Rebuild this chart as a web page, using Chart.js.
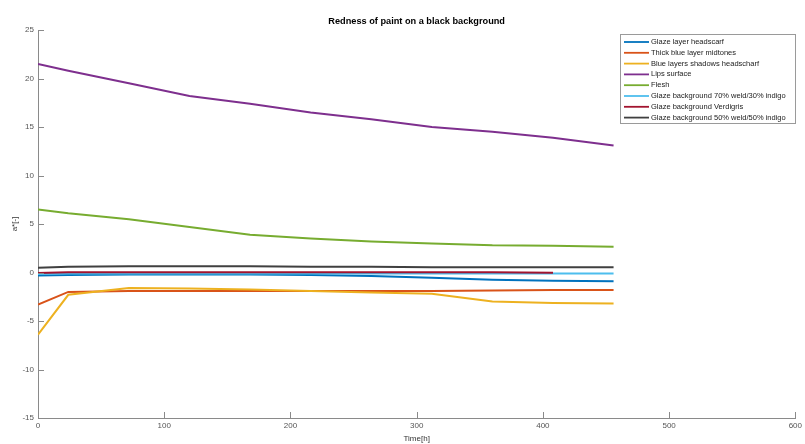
<!DOCTYPE html>
<html>
<head>
<meta charset="utf-8">
<script src="https://cdn.jsdelivr.net/npm/chart.js@4.4.1/dist/chart.umd.min.js"></script>
<style>
  html, body { margin: 0; padding: 0; background: #fff; }
  #wrap { width: 805px; height: 444px; }
</style>
</head>
<body>
<div id="wrap"><canvas id="chart" width="805" height="444"></canvas></div>
<script>
// measurement times in hours
const hours = [0, 24, 72, 120, 168, 216, 264, 312, 360, 408, 456]

const seriesNames = [
  'Glaze layer headscarf',
  'Thick blue layer midtones',
  'Blue layers shadows headscharf',
  'Lips surface',
  'Flesh',
  'Glaze background 70% weld/30% indigo',
  'Glaze background Verdigris',
  'Glaze background 50% weld/50% indigo'
]
const seriesColors = ['#0072BD', '#D95319', '#EDB120', '#7E2F8E', '#77AC30', '#4DBEEE', '#A2142F', '#404040']

// a* values per series
const glazeHeadscarf = [-0.3, -0.25, -0.2, -0.2, -0.2, -0.25, -0.35, -0.55, -0.75, -0.85, -0.9]
const thickBlueMidtones = [-3.3, -2.0, -1.9, -1.9, -1.9, -1.9, -1.9, -1.9, -1.85, -1.8, -1.8]
const blueShadowsHeadscarf = [-6.4, -2.3, -1.6, -1.65, -1.75, -1.9, -2.05, -2.2, -3.0, -3.15, -3.2]
const lipsSurface = [21.5, 20.8, 19.5, 18.2, 17.4, 16.5, 15.8, 15.0, 14.5, 13.9, 13.1]
const flesh = [6.5, 6.1, 5.5, 4.7, 3.9, 3.5, 3.2, 3.0, 2.8, 2.75, 2.65]
const glazeBg7030 = [-0.15, -0.1, -0.1, -0.1, -0.1, -0.1, -0.1, -0.1, -0.1, -0.1, -0.1]
const glazeBgVerdigris = [-0.05, 0.02, 0.02, 0.02, 0.02, 0.02, 0.02, 0.02, 0.02, -0.03]
const glazeBg5050 = [0.5, 0.6, 0.65, 0.65, 0.65, 0.6, 0.6, 0.55, 0.55, 0.55, 0.55]

const allValues = [glazeHeadscarf, thickBlueMidtones, blueShadowsHeadscarf, lipsSurface,
  flesh, glazeBg7030, glazeBgVerdigris, glazeBg5050]

const xTicks = [0, 100, 200, 300, 400, 500, 600]
const yTicks = [-15, -10, -5, 0, 5, 10, 15, 20, 25]

const fontFamily = '"Liberation Sans", Arial, sans-serif'

// later series are drawn on top of earlier ones
const datasets = allValues.map((vals, i) => ({
  label: seriesNames[i],
  data: vals.map((v, j) => ({ x: hours[j], y: v })),
  borderColor: seriesColors[i],
  backgroundColor: seriesColors[i],
  borderWidth: 2,
  pointRadius: 0,
  tension: 0,
  fill: false,
  order: allValues.length - i
}))

// matlab-style inward ticks, title and boxed legend
const decorations = {
  id: 'decorations',
  afterDraw(chart) {
    const ctx = chart.ctx
    const area = chart.chartArea
    const xs = chart.scales.x
    const ys = chart.scales.y
    ctx.save()
    ctx.strokeStyle = '#8a8a8a'
    ctx.lineWidth = 1
    ctx.beginPath()
    xTicks.forEach(t => {
      const px = Math.round(xs.getPixelForValue(t)) + 0.5
      ctx.moveTo(px, area.bottom)
      ctx.lineTo(px, area.bottom - 6)
    })
    yTicks.forEach(t => {
      const py = Math.round(ys.getPixelForValue(t)) + 0.5
      ctx.moveTo(area.left, py)
      ctx.lineTo(area.left + 6, py)
    })
    ctx.stroke()

    // title
    ctx.fillStyle = '#000'
    ctx.font = 'bold 9.2px ' + fontFamily
    ctx.textAlign = 'center'
    ctx.textBaseline = 'middle'
    ctx.fillText('Redness of paint on a black background', (area.left + area.right) / 2, 21)

    // legend
    const lx = 620, ly = 34, lw = 175, lh = 89
    ctx.fillStyle = '#fff'
    ctx.fillRect(lx, ly, lw, lh)
    ctx.strokeStyle = '#9a9a9a'
    ctx.strokeRect(lx + 0.5, ly + 0.5, lw, lh)
    ctx.font = '7.5px ' + fontFamily
    ctx.textAlign = 'left'
    seriesNames.forEach((name, i) => {
      const y = ly + 8 + i * 10.8
      ctx.strokeStyle = seriesColors[i]
      ctx.lineWidth = 1.8
      ctx.beginPath()
      ctx.moveTo(lx + 4, y)
      ctx.lineTo(lx + 29, y)
      ctx.stroke()
      ctx.fillStyle = '#222'
      ctx.fillText(name, lx + 31, y)
    })
    ctx.restore()
  }
}

new Chart(document.getElementById('chart'), {
  type: 'line',
  data: { datasets: datasets },
  options: {
    responsive: false,
    animation: false,
    layout: { padding: { top: 30, right: 9, left: 0, bottom: 0 } },
    plugins: { legend: { display: false }, title: { display: false }, tooltip: { enabled: false } },
    scales: {
      x: {
        type: 'linear',
        min: 0,
        max: 600,
        afterFit(scale) { scale.height = 26 },
        afterBuildTicks(scale) { scale.ticks = xTicks.map(v => ({ value: v })) },
        grid: { display: true, drawOnChartArea: false, drawTicks: false },
        border: { display: true, color: '#8a8a8a', width: 1 },
        ticks: { color: '#555', padding: 3, font: { size: 8, family: fontFamily }, maxRotation: 0 },
        title: { display: true, text: 'Time[h]', color: '#333', padding: { top: 0, bottom: 0 }, font: { size: 8, family: fontFamily } }
      },
      y: {
        type: 'linear',
        min: -15,
        max: 25,
        afterFit(scale) { scale.width = 38 },
        afterBuildTicks(scale) { scale.ticks = yTicks.map(v => ({ value: v })) },
        grid: { display: true, drawOnChartArea: false, drawTicks: false },
        border: { display: true, color: '#8a8a8a', width: 1 },
        ticks: { color: '#555', padding: 4, font: { size: 8, family: fontFamily } },
        title: { display: true, text: 'a*[-]', color: '#333', padding: { top: 10, bottom: 0 }, font: { size: 8, family: fontFamily } }
      }
    }
  },
  plugins: [decorations]
})
</script>
</body>
</html>
